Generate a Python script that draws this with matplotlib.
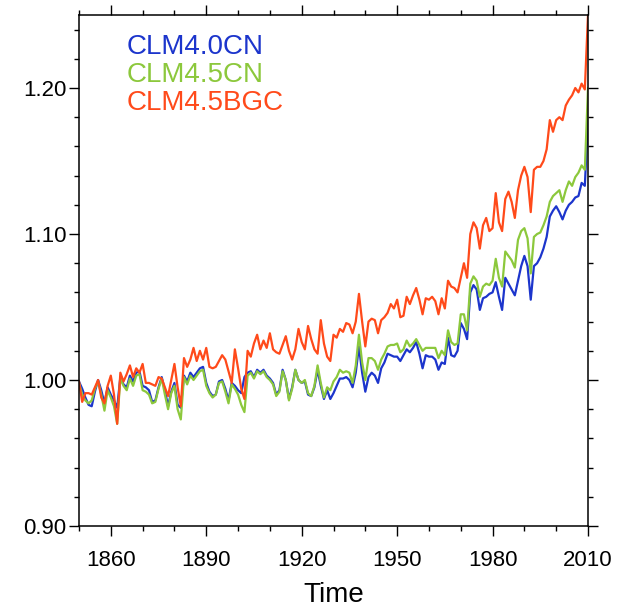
import matplotlib
matplotlib.use("Agg")
import matplotlib.pyplot as plt
from matplotlib.ticker import MultipleLocator, FormatStrFormatter

plt.rcParams['font.family'] = ['Liberation Sans', 'DejaVu Sans']

years = list(range(1850, 2011))

# CLM4.0CN, one value per year 1850-2010
clm40cn = [
    0.999, 0.994, 0.988, 0.983, 0.982, 0.992, 1.000, 0.993, 0.984, 0.995,
    0.990, 0.986, 0.981, 1.002, 0.997, 0.995, 1.003, 0.999, 1.005, 1.006,
    0.996, 0.995, 0.993, 0.985, 0.986, 0.995, 1.002, 0.993, 0.982, 0.992,
    0.998, 0.983, 0.981, 1.003, 0.999, 1.005, 1.002, 1.005, 1.008, 1.009,
    0.998, 0.992, 0.989, 0.990, 0.999, 1.000, 0.994, 0.986, 0.998, 0.996,
    0.993, 0.991, 1.002, 1.005, 1.006, 1.002, 1.007, 1.005, 1.007, 1.003,
    1.001, 0.998, 0.990, 0.993, 1.007, 1.000, 0.987, 0.995, 1.007, 1.000,
    0.998, 0.999, 0.990, 0.989, 0.995, 1.007, 0.996, 0.987, 0.993, 0.987,
    0.991, 0.996, 1.001, 1.001, 1.002, 1.000, 0.995, 1.005, 1.023, 1.005,
    0.992, 1.002, 1.005, 1.003, 0.998, 1.008, 1.012, 1.018, 1.017, 1.016,
    1.016, 1.013, 1.017, 1.021, 1.019, 1.022, 1.026, 1.018, 1.008, 1.017,
    1.016, 1.016, 1.014, 1.007, 1.012, 1.011, 1.029, 1.017, 1.016, 1.020,
    1.039, 1.035, 1.028, 1.060, 1.065, 1.062, 1.048, 1.056, 1.057, 1.059,
    1.060, 1.067, 1.057, 1.048, 1.070, 1.066, 1.062, 1.058, 1.068, 1.078,
    1.085, 1.078, 1.055, 1.078, 1.080, 1.084, 1.090, 1.098, 1.112, 1.116,
    1.119, 1.115, 1.110, 1.116, 1.120, 1.122, 1.125, 1.126, 1.135, 1.133,
    1.178,
]

# CLM4.5CN
clm45cn = [
    0.998, 0.990, 0.986, 0.984, 0.986, 0.994, 0.999, 0.990, 0.979, 0.993,
    0.988, 0.982, 0.970, 1.001, 0.996, 0.993, 1.001, 0.996, 1.003, 1.004,
    0.993, 0.992, 0.990, 0.984, 0.985, 0.994, 1.001, 0.990, 0.980, 0.991,
    0.996, 0.980, 0.973, 1.002, 0.997, 1.003, 1.000, 1.003, 1.006, 1.007,
    0.996, 0.991, 0.988, 0.990, 0.998, 0.999, 0.992, 0.984, 0.997, 0.994,
    0.990, 0.983, 0.978, 1.003, 1.005, 1.001, 1.006, 1.004, 1.006, 1.002,
    1.000, 0.997, 0.989, 0.992, 1.006, 1.000, 0.986, 0.994, 1.007, 1.000,
    0.998, 1.000, 0.991, 0.989, 0.996, 1.010, 0.998, 0.988, 0.995, 0.993,
    0.999, 1.002, 1.007, 1.005, 1.006, 1.005, 0.998, 1.010, 1.031, 1.012,
    1.000, 1.015, 1.015, 1.013, 1.007, 1.014, 1.018, 1.023, 1.024, 1.024,
    1.025, 1.019, 1.021, 1.027, 1.023, 1.025, 1.028, 1.024, 1.020, 1.022,
    1.022, 1.022, 1.022, 1.015, 1.020, 1.017, 1.034, 1.026, 1.024, 1.025,
    1.045, 1.045, 1.034, 1.066, 1.071, 1.068, 1.057, 1.064, 1.066, 1.065,
    1.068, 1.083, 1.070, 1.064, 1.088, 1.085, 1.082, 1.077, 1.096, 1.102,
    1.104, 1.097, 1.073, 1.098, 1.100, 1.101, 1.106, 1.112, 1.122, 1.126,
    1.128, 1.130, 1.122, 1.130, 1.136, 1.133, 1.139, 1.142, 1.147, 1.144,
    1.200,
]

# CLM4.5BGC
clm45bgc = [
    0.999, 0.985, 0.991, 0.991, 0.990, 0.995, 1.000, 0.988, 0.984, 0.996,
    1.003, 0.990, 0.970, 1.005, 0.999, 1.004, 1.010, 1.002, 1.008, 1.005,
    1.011, 0.998, 0.998, 0.997, 0.996, 1.002, 1.001, 0.995, 0.989, 1.000,
    1.011, 0.995, 0.982, 1.015, 1.009, 1.014, 1.022, 1.013, 1.020, 1.014,
    1.022, 1.009, 1.008, 1.009, 1.013, 1.017, 1.014, 1.006, 0.998, 1.021,
    1.008, 0.994, 0.987, 1.020, 1.016, 1.025, 1.031, 1.021, 1.027, 1.022,
    1.032, 1.021, 1.019, 1.018, 1.024, 1.030, 1.020, 1.014, 1.021, 1.035,
    1.026, 1.021, 1.037, 1.028, 1.021, 1.018, 1.041, 1.025, 1.016, 1.013,
    1.031, 1.029, 1.035, 1.033, 1.039, 1.038, 1.032, 1.040, 1.059, 1.040,
    1.023, 1.040, 1.042, 1.041, 1.032, 1.041, 1.043, 1.046, 1.052, 1.049,
    1.055, 1.043, 1.044, 1.057, 1.052, 1.058, 1.063, 1.055, 1.045, 1.056,
    1.055, 1.057, 1.054, 1.045, 1.056, 1.049, 1.068, 1.064, 1.063, 1.060,
    1.070, 1.080, 1.070, 1.100, 1.108, 1.104, 1.090, 1.106, 1.111, 1.102,
    1.104, 1.128, 1.108, 1.102, 1.124, 1.129, 1.122, 1.111, 1.130, 1.140,
    1.146, 1.139, 1.115, 1.144, 1.146, 1.146, 1.150, 1.158, 1.178, 1.170,
    1.178, 1.180, 1.178, 1.188, 1.192, 1.195, 1.200, 1.197, 1.203, 1.199,
    1.250,
]

names = ["CLM4.0CN", "CLM4.5CN", "CLM4.5BGC"]
colors = ["#1c35cc", "#8cc83c", "#ff4a1a"]

fig = plt.figure(figsize=(6.18, 6.13), dpi=100)
ax = fig.add_axes([79 / 618, 1 - 526 / 613, 509 / 618, 511 / 613])

for series, c in zip([clm40cn, clm45cn, clm45bgc], colors):
    ax.plot(years, series, color=c, lw=1.6)

ax.set_xlim(1850, 2010)
ax.set_ylim(0.90, 1.25)
ax.xaxis.set_major_locator(MultipleLocator(30))
ax.xaxis.set_minor_locator(MultipleLocator(10))
ax.yaxis.set_major_locator(MultipleLocator(0.1))
ax.yaxis.set_minor_locator(MultipleLocator(0.02))
ax.yaxis.set_major_formatter(FormatStrFormatter('%.2f'))
ax.set_xticks([1860, 1890, 1920, 1950, 1980, 2010])

for s in ax.spines.values():
    s.set_linewidth(1.1)
ax.tick_params(which='both', direction='out', top=True, right=True, width=1.0)
ax.tick_params(which='major', length=7)
ax.tick_params(which='minor', length=3.5)
ax.tick_params(axis='x', which='major', labelsize=16, pad=10)
ax.tick_params(axis='y', which='major', labelsize=16, pad=2)

ax.set_xlabel("Time", fontsize=20, labelpad=8)

# legend as coloured text, as in the original
for i, (name, c) in enumerate(zip(names, colors)):
    ax.text(0.094, 0.924 - i * 0.0548, name, color=c, fontsize=20,
            transform=ax.transAxes, va='baseline', ha='left')

plt.savefig("out.png", dpi=100, facecolor="white")
